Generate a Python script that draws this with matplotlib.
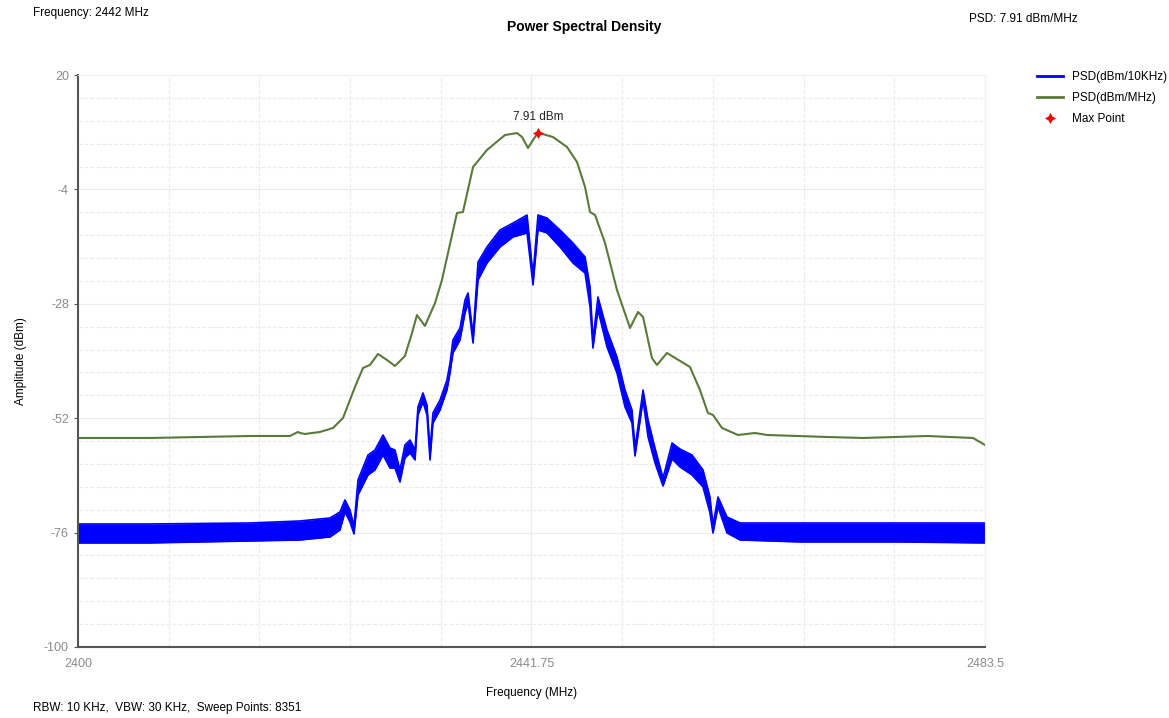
import numpy as np
import matplotlib.pyplot as plt
from matplotlib.lines import Line2D

plt.rcParams["font.family"] = ["Liberation Sans", "DejaVu Sans"]
plt.rcParams["axes.unicode_minus"] = False

# PSD (dBm/MHz) trace
mhz_freq = [2400.0, 2406.63, 2415.84, 2419.52, 2420.25, 2420.44, 2420.90, 2422.28, 2423.48,
            2424.40, 2425.50, 2426.24, 2426.88, 2427.62, 2428.45, 2429.18, 2430.10, 2430.75,
            2431.21, 2431.94, 2432.87, 2433.51, 2434.89, 2435.44, 2436.37, 2437.65, 2439.31,
            2440.42, 2440.88, 2441.43, 2441.89, 2442.35, 2443.73, 2445.02, 2445.94, 2446.68,
            2447.14, 2447.60, 2448.52, 2449.62, 2450.82, 2451.56, 2452.02, 2452.84, 2453.30,
            2454.22, 2456.34, 2457.26, 2457.99, 2458.46, 2459.29, 2460.76, 2462.33, 2463.43,
            2468.96, 2472.27, 2478.16, 2482.40, 2483.5]
mhz_psd = [-56.15, -56.15, -55.73, -55.73, -54.89, -55.10, -55.31, -54.89, -54.05,
           -51.95, -45.45, -41.46, -40.83, -38.53, -39.79, -41.04, -38.95, -34.12,
           -30.35, -32.65, -27.83, -23.00, -8.95, -8.74, 0.70, 4.27, 7.41,
           7.83, 7.00, 4.69, 6.36, 7.91, 6.99, 4.90, 1.75, -3.49,
           -8.74, -9.37, -15.24, -25.10, -33.07, -29.72, -30.76, -39.37, -40.83,
           -38.32, -41.25, -46.08, -50.90, -51.32, -54.05, -55.52, -55.10, -55.52,
           -55.94, -56.15, -55.73, -56.15, -57.62]

# PSD (dBm/10KHz) trace: upper and lower edge of the noisy band
khz_freq = [2400.0, 2406.63, 2415.84, 2420.44, 2423.20, 2424.12, 2424.58, 2425.04, 2425.41,
            2425.78, 2426.70, 2427.34, 2428.08, 2428.72, 2429.18, 2429.64, 2430.10, 2430.57,
            2431.03, 2431.30, 2431.76, 2432.13, 2432.41, 2432.68, 2433.33, 2433.97, 2434.25,
            2434.52, 2435.17, 2435.63, 2435.91, 2436.37, 2436.83, 2437.65, 2438.85, 2440.05,
            2441.34, 2441.89, 2442.35, 2443.18, 2444.38, 2445.57, 2446.68, 2447.14, 2447.41,
            2447.87, 2448.70, 2449.62, 2450.36, 2451.00, 2451.28, 2452.02, 2452.48, 2453.12,
            2453.86, 2454.69, 2455.42, 2456.53, 2457.54, 2458.18, 2458.46, 2458.92, 2459.75,
            2460.95, 2466.47, 2475.68, 2483.5]
khz_top = [-74.19, -74.19, -73.98, -73.56, -72.93, -71.67, -69.15, -71.25, -74.61,
           -64.96, -59.72, -58.67, -55.52, -58.25, -58.67, -62.86, -57.62, -56.57,
           -58.67, -49.65, -46.71, -49.23, -58.67, -50.90, -48.18, -43.98, -40.42,
           -35.59, -33.07, -27.20, -25.73, -34.54, -19.23, -16.08, -12.52, -11.05,
           -9.37, -21.95, -9.37, -10.00, -12.52, -15.24, -18.18, -24.47, -35.59,
           -26.57, -33.49, -39.16, -46.08, -50.27, -58.25, -46.08, -52.37, -58.25,
           -64.54, -57.20, -58.46, -59.72, -62.86, -68.53, -74.40, -68.53, -72.72,
           -73.98, -73.98, -73.98, -73.98]
khz_bottom = [-78.17, -78.17, -77.76, -77.55, -76.92, -75.45, -71.67, -73.77, -76.29,
              -68.11, -63.91, -62.86, -59.72, -62.44, -62.44, -65.38, -60.34, -59.30,
              -60.76, -51.32, -48.60, -51.32, -60.76, -53.00, -50.27, -46.08, -42.51,
              -38.32, -35.59, -29.93, -27.83, -36.22, -23.00, -19.44, -16.08, -13.98,
              -13.14, -24.05, -12.52, -13.14, -16.08, -19.44, -21.54, -28.67, -37.27,
              -29.30, -37.06, -42.51, -49.65, -52.99, -59.92, -48.18, -55.94, -61.39,
              -66.22, -60.55, -62.23, -63.91, -66.43, -71.88, -76.08, -70.62, -76.08,
              -77.55, -77.96, -77.96, -78.17]

max_freq = 2442.35
max_psd = 7.91

y_ticks = [20, -4, -28, -52, -76, -100]
x_ticks = [2400, 2441.75, 2483.5]
x_labels = ["2400", "2441.75", "2483.5"]

blue = "#0000ff"
olive = "#5a7a3a"
star = (4, 1, 0)

fig = plt.figure(figsize=(11.69, 7.18), dpi=100)
ax = fig.add_axes([0.0667, 0.0989, 0.7759, 0.7966])

ax.fill_between(khz_freq, khz_bottom, khz_top, color=blue, lw=0)
ax.plot(khz_freq, khz_top, color=blue, lw=1.2)
ax.plot(khz_freq, khz_bottom, color=blue, lw=1.2)
ax.plot(mhz_freq, mhz_psd, color=olive, lw=1.5)
ax.plot([max_freq], [max_psd], marker=star, color="red", ms=8, mew=0, ls="none", zorder=5)
ax.text(max_freq, max_psd + 2, "7.91 dBm", ha="center", va="bottom", fontsize=8.5, color="#222222")

ax.set_xlim(2400, 2483.5)
ax.set_ylim(-100, 20)
ax.set_xticks(x_ticks)
ax.set_xticklabels(x_labels)
ax.set_yticks(y_ticks)
ax.set_xticks(np.arange(2400, 2483.6, 8.35), minor=True)
ax.set_yticks(np.arange(-100, 20.1, 4.8), minor=True)
ax.tick_params(axis="both", which="major", labelsize=9, labelcolor="#8a8a8a", color="#555555", length=3)
ax.tick_params(axis="x", which="major", length=0, pad=8)
ax.tick_params(which="minor", length=0)
ax.grid(which="minor", color="#ececec", ls="--", lw=0.8)
ax.grid(which="major", color="#ececec", ls="-", lw=0.8)
ax.set_axisbelow(True)

for s in ["top", "right"]:
    ax.spines[s].set_color("#f0f0f0")
for s in ["left", "bottom"]:
    ax.spines[s].set_color("#555555")
    ax.spines[s].set_linewidth(1.5)

ax.set_xlabel("Frequency (MHz)", fontsize=8.5, labelpad=12)
ax.set_ylabel("Amplitude (dBm)", fontsize=8.5, labelpad=12)

fig.text(0.5, 0.963, "Power Spectral Density", ha="center", va="center", fontsize=10, fontweight="bold")
fig.text(0.028, 0.982, "Frequency: 2442 MHz", ha="left", va="center", fontsize=8.5)
fig.text(0.829, 0.974, "PSD: 7.91 dBm/MHz", ha="left", va="center", fontsize=8.5)
fig.text(0.028, 0.014, "RBW: 10 KHz,  VBW: 30 KHz,  Sweep Points: 8351", ha="left", va="center", fontsize=8.5)

handles = [Line2D([], [], color=blue, lw=2),
           Line2D([], [], color=olive, lw=2),
           Line2D([], [], marker=star, color="red", ms=8, mew=0, ls="none")]
fig.legend(handles, ["PSD(dBm/10KHz)", "PSD(dBm/MHz)", "Max Point"], loc="upper left",
           bbox_to_anchor=(0.878, 0.916), frameon=False, fontsize=8.5,
           handlelength=2.2, labelspacing=0.75)

fig.savefig("out.png", dpi=100)
